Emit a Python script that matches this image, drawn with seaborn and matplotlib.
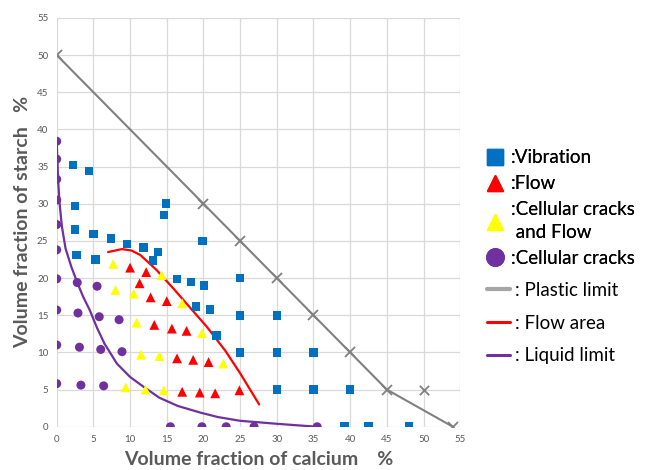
import matplotlib
matplotlib.use("Agg")
import matplotlib.pyplot as plt
from matplotlib.lines import Line2D
import seaborn as sns

# ---- data ----
vib_x = [2.2, 4.4, 2.5, 14.9, 14.6, 2.5, 5.0, 7.4, 9.6, 11.8, 13.8, 13.1, 2.7, 5.3,
         19.9, 16.4, 18.3, 20.1, 19.0, 20.9, 21.8, 25, 25, 25, 30, 30, 35, 30, 35, 40,
         39.2, 42.5, 48.0]
vib_y = [35.2, 34.4, 29.7, 30.0, 28.5, 26.5, 25.9, 25.3, 24.6, 24.1, 23.5, 22.4, 23.1, 22.5,
         25.0, 19.9, 19.5, 19.0, 16.2, 15.8, 12.3, 20, 15, 10, 15, 10, 10, 5, 5, 5,
         0, 0, 0]

flow_x = [10.0, 12.2, 11.3, 12.8, 15.0, 13.3, 15.7, 17.7, 16.4, 18.6, 20.7, 17.1, 19.5, 21.6, 24.9]
flow_y = [21.4, 20.8, 19.3, 17.4, 16.9, 13.7, 13.2, 12.9, 9.2, 9.0, 8.7, 4.7, 4.6, 4.5, 4.9]

ccf_x = [7.7, 14.3, 8.0, 10.5, 17.1, 10.9, 19.8, 11.5, 14.0, 22.7, 9.4, 12.1, 14.6]
ccf_y = [21.9, 20.4, 18.4, 17.9, 16.6, 14.0, 12.6, 9.7, 9.5, 8.5, 5.3, 5.0, 4.9]

cc_x = [0, 0, 0, 0, 0, 0, 0, 0, 0, 0,
        2.8, 2.9, 3.1, 3.3, 5.5, 5.8, 6.0, 6.4, 8.5, 8.9,
        15.5, 19.8, 23.1, 26.9, 35.5]
cc_y = [38.4, 36.0, 33.3, 30.5, 27.2, 23.8, 19.9, 15.7, 11.0, 5.8,
        19.4, 15.3, 10.7, 5.6, 18.9, 14.8, 10.4, 5.5, 14.4, 10.1,
        0, 0, 0, 0, 0]

plastic_x = [0, 20, 25, 30, 35, 40, 45, 54]
plastic_y = [50, 30, 25, 20, 15, 10, 5, 0]
plastic_extra_x = [50]
plastic_extra_y = [5]

flowarea_x = [7.0, 8.9, 10.2, 11.4, 13.6, 15.9, 18.2, 20.5, 23.0, 25.0, 27.6]
flowarea_y = [23.5, 23.9, 23.7, 23.1, 21.1, 18.6, 16.0, 13.4, 10.2, 7.2, 3.0]

liquid_x = [0, 0.2, 0.4, 0.7, 1.2, 2.0, 2.8, 3.6, 4.5, 5.5, 6.5, 8.2, 10.0, 11.8,
            14.0, 16.5, 19.6, 22.0, 25.0, 30.0, 35.5]
liquid_y = [38.4, 33.0, 30.0, 27.0, 24.0, 21.5, 19.4, 17.5, 15.7, 13.3, 11.2, 8.5, 6.7, 5.4,
            3.9, 2.8, 1.9, 1.3, 0.8, 0.4, 0]

ticks = [0, 5, 10, 15, 20, 25, 30, 35, 40, 45, 50, 55]

marker_labels = [":Vibration", ":Flow", ":Cellular cracks\n and Flow", ":Cellular cracks"]
line_labels = [": Plastic limit", ": Flow area", ": Liquid limit"]

BLUE = "#0070C0"
RED = "#FF0000"
YELLOW = "#FFFF00"
PURPLE = "#7030A0"
GRAY = "#808080"
TXT = "#595959"

sns.set_theme(style="white")
plt.rcParams["font.family"] = ["Lato", "DejaVu Sans"]

fig = plt.figure(figsize=(6.54, 4.70), dpi=100)
ax = fig.add_axes([0.0867, 0.092, 0.617, 0.870])

# lines
sns.lineplot(x=plastic_x, y=plastic_y, sort=False, estimator=None, color=GRAY, lw=1.5,
             marker="x", markersize=7, markeredgewidth=1.3, markeredgecolor=GRAY, ax=ax)
sns.scatterplot(x=plastic_extra_x, y=plastic_extra_y, marker="x", s=45, color=GRAY,
                linewidth=1.3, ax=ax)
sns.lineplot(x=liquid_x, y=liquid_y, sort=False, estimator=None, color=PURPLE, lw=1.6, ax=ax)
sns.lineplot(x=flowarea_x, y=flowarea_y, sort=False, estimator=None, color=RED, lw=1.6, ax=ax)

# points
sns.scatterplot(x=vib_x, y=vib_y, marker="s", s=38, color=BLUE, edgecolor="none", ax=ax, zorder=4)
sns.scatterplot(x=flow_x, y=flow_y, marker="^", s=50, color=RED, edgecolor="none", ax=ax, zorder=4)
sns.scatterplot(x=ccf_x, y=ccf_y, marker="^", s=50, color=YELLOW, edgecolor="none", ax=ax, zorder=4)
sns.scatterplot(x=cc_x, y=cc_y, marker="o", s=42, color=PURPLE, edgecolor="none", ax=ax, zorder=4)

ax.set_xlim(0, 55)
ax.set_ylim(0, 55)
ax.set_xticks(ticks)
ax.set_yticks(ticks)
ax.grid(True, color="#d9d9d9", lw=0.9)
ax.set_axisbelow(True)
for s in ax.spines.values():
    s.set_visible(False)
ax.tick_params(length=0, labelsize=7, labelcolor=TXT, pad=6)

ax.set_xlabel("Volume fraction of calcium    %", fontsize=14, fontweight="bold",
              color=TXT, labelpad=5)
ax.set_ylabel("Volume fraction of starch   %", fontsize=14, fontweight="bold",
              color=TXT, labelpad=4)

h_markers = [
    Line2D([], [], ls="none", marker="s", ms=11, color=BLUE),
    Line2D([], [], ls="none", marker="^", ms=12, color=RED),
    Line2D([], [], ls="none", marker="^", ms=12, color=YELLOW),
    Line2D([], [], ls="none", marker="o", ms=12.5, color=PURPLE),
]
h_lines = [
    Line2D([], [], color="#a6a6a6", lw=3),
    Line2D([], [], color=RED, lw=2.2),
    Line2D([], [], color=PURPLE, lw=2.2),
]
leg1 = fig.legend(h_markers, marker_labels, loc="upper left", bbox_to_anchor=(0.741, 0.682),
                  frameon=False, fontsize=13.5, handlelength=1.15, handletextpad=0.25,
                  labelspacing=0.48, borderaxespad=0, borderpad=0)
for t in leg1.get_texts():
    t.set_color("#000000")
    t.set_linespacing(1.4)
leg2 = fig.legend(h_lines, line_labels, loc="upper left", bbox_to_anchor=(0.745, 0.400),
                  frameon=False, fontsize=13.5, handlelength=1.2, handletextpad=0.3,
                  labelspacing=0.83, borderaxespad=0, borderpad=0)
for t in leg2.get_texts():
    t.set_color("#000000")
fig.add_artist(leg1)

fig.savefig("out.png", dpi=100)
